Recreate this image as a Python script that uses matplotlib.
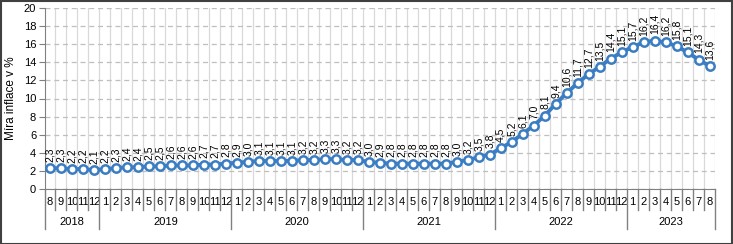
import matplotlib.pyplot as plt
from matplotlib.transforms import blended_transform_factory

# monthly values, Aug 2018 - Aug 2023
years = ['2018', '2019', '2020', '2021', '2022', '2023']
months = [8, 9, 10, 11, 12] + list(range(1, 13)) * 4 + list(range(1, 9))
inflation = [2.3, 2.3, 2.2, 2.2, 2.1,
             2.2, 2.3, 2.4, 2.4, 2.5, 2.5, 2.6, 2.6, 2.6, 2.7, 2.7, 2.8,
             2.9, 3.0, 3.1, 3.1, 3.1, 3.1, 3.2, 3.2, 3.3, 3.3, 3.2, 3.2,
             3.0, 2.9, 2.8, 2.8, 2.8, 2.8, 2.8, 2.8, 3.0, 3.2, 3.5, 3.8,
             4.5, 5.2, 6.1, 7.0, 8.1, 9.4, 10.6, 11.7, 12.7, 13.5, 14.4, 15.1,
             15.7, 16.2, 16.4, 16.2, 15.8, 15.1, 14.3, 13.6]
months_per_year = [5, 12, 12, 12, 12, 8]

x = list(range(len(inflation)))
blue = '#3A7DC2'

fig = plt.figure(figsize=(7.33, 2.44), dpi=100)
ax = fig.add_axes([44.5 / 733, 55 / 244, (715 - 44.5) / 733, (236 - 55) / 244])

ax.plot(x, inflation, color=blue, lw=2.8, marker='o', ms=6, mfc='white',
        mec=blue, mew=1.8, zorder=3, clip_on=False)

for xi, v in zip(x, inflation):
    ax.annotate(f'{v:.1f}'.replace('.', ','), (xi, v), xytext=(0, 4.5),
                textcoords='offset points', rotation=90, ha='center',
                va='bottom', fontsize=7.5, family='Liberation Sans')

ax.set_xlim(-0.5, len(x) - 0.5)
ax.set_ylim(0, 20)
ax.set_yticks(range(0, 21, 2))
ax.tick_params(axis='y', labelsize=8, length=4, color='#808080', pad=2)
for lab in ax.get_yticklabels():
    lab.set_family('Liberation Sans')
ax.set_ylabel('Míra inflace v %', fontsize=8.5, family='Liberation Sans', labelpad=5)

ax.set_xticks(x)
ax.set_xticklabels([str(m) for m in months], fontsize=8, family='Liberation Sans')
ax.tick_params(axis='x', length=0, pad=6)

ax.grid(axis='y', color='#BFBFBF', ls=(0, (4, 3)), lw=0.9)
for b in range(1, len(x)):
    ax.axvline(b - 0.5, color='#D9D9D9', lw=0.9, zorder=0)
ax.axvline(len(x) - 0.5, color='#D9D9D9', lw=0.9, zorder=0)

for side in ['top', 'right']:
    ax.spines[side].set_visible(False)
for side in ['left', 'bottom']:
    ax.spines[side].set_color('#808080')

# multi-level category axis
tr = blended_transform_factory(ax.transData, ax.transAxes)
h = 1 / (236 - 55)
year_edges = [-0.5]
for n in months_per_year:
    year_edges.append(year_edges[-1] + n)
for b in range(len(x) + 1):
    edge = b - 0.5
    low = -40 * h if edge in year_edges else -21 * h
    ax.plot([edge, edge], [0, low], transform=tr, color='#808080', lw=1,
            clip_on=False)
for i, yr in enumerate(years):
    mid = (year_edges[i] + year_edges[i + 1]) / 2
    ax.text(mid, -33 * h, yr, transform=tr, ha='center', va='center',
            fontsize=8, family='Liberation Sans')

fig.patches.append(plt.Rectangle((0.001, 0.002), 0.997, 0.995,
                                 transform=fig.transFigure, fill=False,
                                 edgecolor='#404040', lw=1.5))

fig.savefig('out.png', dpi=100)
